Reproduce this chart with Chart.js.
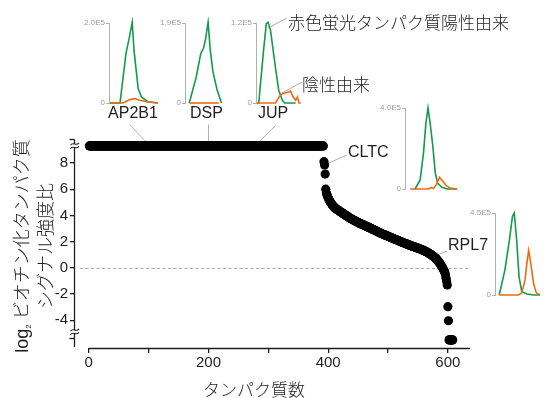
<!DOCTYPE html>
<html><head><meta charset="utf-8">
<script src="https://cdn.jsdelivr.net/npm/chart.js@4"></script>
<style>
html,body{margin:0;padding:0;background:#fff;}
#wrap{position:relative;width:544px;height:398px;overflow:hidden;font-family:'Liberation Sans',Arial,'Noto Sans CJK JP',sans-serif;color:#1e1e1e;}
canvas{position:absolute;}
.lbl{position:absolute;white-space:nowrap;line-height:1;}
.cjk{font-family:'Noto Sans CJK JP','Liberation Sans',sans-serif;font-weight:300;}
</style></head>
<body><div id="wrap">
<canvas id="main" width="544" height="398" style="left:0;top:0"></canvas>
<svg width="544" height="398" style="position:absolute;left:0;top:0;pointer-events:none">
  <line x1="287" y1="18" x2="268" y2="28" stroke="#999" stroke-width="0.8"/>
  <line x1="302" y1="82" x2="282" y2="93" stroke="#999" stroke-width="0.8"/>
</svg>
<div class="lbl" style="left:133px;top:104.5px;font-size:16px;transform:translateX(-50%)">AP2B1</div>
<div class="lbl" style="left:206.5px;top:104.5px;font-size:16px;transform:translateX(-50%)">DSP</div>
<div class="lbl" style="left:273px;top:104.5px;font-size:16px;transform:translateX(-50%)">JUP</div>
<div class="lbl" style="left:348px;top:143.5px;font-size:16px">CLTC</div>
<div class="lbl" style="left:448px;top:236.5px;font-size:16px">RPL7</div>
<div class="lbl cjk" style="left:288px;top:13px;font-size:17px">赤色蛍光タンパク質陽性由来</div>
<div class="lbl cjk" style="left:302px;top:75px;font-size:17px">陰性由来</div>
<div class="lbl cjk" style="left:203px;top:380px;font-size:17px">タンパク質数</div>
<div class="lbl" style="left:-99px;top:224px;width:260px;height:44px;line-height:22px;font-size:18px;text-align:center;transform:rotate(-90deg);transform-origin:130px 22px;">
  <div><span style="font-family:'Liberation Sans',Arial,sans-serif">log<span style="font-size:8px;vertical-align:-3px;line-height:0">2</span> </span><span class="cjk">ビオチン化タンパク質</span></div>
  <div class="cjk">シグナル強度比</div>
</div>
</div>
<script>
// ---------- main chart data (rank-ordered log2 ratios) ----------
const cappedHigh = [
9.3,9.3,9.3,9.3,9.3,9.3,9.3,9.3,9.3,9.3, 9.3,9.3,9.3,9.3,9.3,9.3,9.3,9.3,9.3,9.3,
9.3,9.3,9.3,9.3,9.3,9.3,9.3,9.3,9.3,9.3, 9.3,9.3,9.3,9.3,9.3,9.3,9.3,9.3,9.3,9.3,
9.3,9.3,9.3,9.3,9.3,9.3,9.3,9.3,9.3,9.3, 9.3,9.3,9.3,9.3,9.3,9.3,9.3,9.3,9.3,9.3,
9.3,9.3,9.3,9.3,9.3,9.3,9.3,9.3,9.3,9.3, 9.3,9.3,9.3,9.3,9.3,9.3,9.3,9.3,9.3,9.3,
9.3,9.3,9.3,9.3,9.3,9.3,9.3,9.3,9.3,9.3, 9.3,9.3,9.3,9.3,9.3,9.3,9.3,9.3,9.3,9.3,
9.3,9.3,9.3,9.3,9.3,9.3,9.3,9.3,9.3,9.3, 9.3,9.3,9.3,9.3,9.3,9.3,9.3,9.3,9.3,9.3,
9.3,9.3,9.3,9.3,9.3,9.3,9.3,9.3,9.3,9.3, 9.3,9.3,9.3,9.3,9.3,9.3,9.3,9.3,9.3,9.3,
9.3,9.3,9.3,9.3,9.3,9.3,9.3,9.3,9.3,9.3, 9.3,9.3,9.3,9.3,9.3,9.3,9.3,9.3,9.3,9.3,
9.3,9.3,9.3,9.3,9.3,9.3,9.3,9.3,9.3,9.3, 9.3,9.3,9.3,9.3,9.3,9.3,9.3,9.3,9.3,9.3,
9.3,9.3,9.3,9.3,9.3,9.3,9.3,9.3,9.3,9.3, 9.3,9.3,9.3,9.3,9.3,9.3,9.3,9.3,9.3,9.3,
9.3,9.3,9.3,9.3,9.3,9.3,9.3,9.3,9.3,9.3, 9.3,9.3,9.3,9.3,9.3,9.3,9.3,9.3,9.3,9.3,
9.3,9.3,9.3,9.3,9.3,9.3,9.3,9.3,9.3,9.3, 9.3,9.3,9.3,9.3,9.3,9.3,9.3,9.3,9.3,9.3,
9.3,9.3,9.3,9.3,9.3,9.3,9.3,9.3,9.3,9.3, 9.3,9.3,9.3,9.3,9.3,9.3,9.3,9.3,9.3,9.3,
9.3,9.3,9.3,9.3,9.3,9.3,9.3,9.3,9.3,9.3, 9.3,9.3,9.3,9.3,9.3,9.3,9.3,9.3,9.3,9.3,
9.3,9.3,9.3,9.3,9.3,9.3,9.3,9.3,9.3,9.3, 9.3,9.3,9.3,9.3,9.3,9.3,9.3,9.3,9.3,9.3,
9.3,9.3,9.3,9.3,9.3,9.3,9.3,9.3,9.3,9.3, 9.3,9.3,9.3,9.3,9.3,9.3,9.3,9.3,9.3,9.3,
9.3,9.3,9.3,9.3,9.3,9.3,9.3,9.3,9.3,9.3, 9.3,9.3,9.3,9.3,9.3,9.3,9.3,9.3,9.3,9.3,
9.3,9.3,9.3,9.3,9.3,9.3,9.3,9.3,9.3,9.3, 9.3,9.3,9.3,9.3,9.3,9.3,9.3,9.3,9.3,9.3,
9.3,9.3,9.3,9.3,9.3,9.3,9.3,9.3,9.3,9.3, 9.3,9.3,9.3,9.3,9.3,9.3,9.3,9.3,9.3,9.3,
9.3,9.3,9.3,9.3,9.3,9.3,9.3,9.3,9.3,9.3, 9.3,9.3
];
const dropValues = [8.1, 7.85, 7.15, 6.0, 5.7];
const curveValues = [
5.58,5.45,5.34,5.24,5.15,5.06,
4.99,4.92,4.86,4.80,4.74,4.68,4.63,4.59,4.55,
4.51,4.48,4.45,4.42,4.39,4.36,4.32,4.29,
4.26,4.23,4.20,4.17,4.14,4.11,4.08,4.05,4.02,3.99,3.96,3.93,3.90,3.87,3.84,3.80,3.77,
3.75,3.73,3.70,3.68,3.65,3.63,3.61,3.58,3.56,3.53,3.51,3.49,3.46,3.44,3.41,3.39,
3.37,3.35,3.33,3.31,3.29,3.27,3.25,3.23,3.21,3.19,3.17,3.14,3.12,3.10,3.08,3.06,3.04,
3.02,3.00,2.97,2.95,2.93,2.91,2.88,2.86,2.84,2.82,2.79,2.77,2.75,2.73,2.70,2.68,2.66,
2.64,2.62,2.60,2.58,2.56,2.54,2.52,2.50,2.49,2.47,2.45,2.43,2.41,2.39,2.37,2.35,
2.33,2.31,2.29,2.27,2.25,2.23,2.21,2.19,2.17,2.16,2.14,2.12,2.10,2.08,2.06,2.04,2.02,
2.00,1.98,1.96,1.95,1.93,1.91,1.89,1.87,1.85,1.84,1.82,1.80,1.78,1.76,1.75,1.73,1.71,
1.69,1.68,1.66,1.64,1.63,1.61,1.60,1.58,1.56,1.55,1.53,1.51,1.50,1.48,1.47,1.45,
1.43,1.41,1.39,1.37,1.35,1.33,1.31,1.29,1.27,1.25,1.22,1.20,1.17,1.15,1.12,1.09,1.06,
1.03,1.00,0.97,0.93,0.90,0.86,0.82,0.79,0.75,0.71,0.67,
0.62,0.56,0.50,0.44,0.38,0.31,0.24,0.16,
0.08,0.00,-0.08,-0.17,-0.26,-0.36,
-0.55,-0.80,-1.05,-1.31
];
const tailValues = [-2.97, -4.04, -5.5, -5.5, -5.5, -5.5, -5.5, -5.5, -5.5];
const ratios = cappedHigh.concat(dropValues, curveValues, tailValues);

const xTicks = [0, 100, 200, 300, 400, 500, 600];
const xTickLabels = ['0', '', '200', '', '400', '', '600'];
const yTicks = [-4, -2, 0, 2, 4, 6, 8];
const yTickLabels = ['-4', '-2', '0', '2', '4', '6', '8'];

const annotationNames = ['AP2B1', 'DSP', 'JUP', 'CLTC', 'RPL7'];
const annotationRanks = [102, 200, 278, 394, 576];
const annotationAnchors = [[130,125],[208.5,124.5],[275,126],[347,155],[447,251]];

// ---------- inset elution profiles (×1E5) ----------
const insetLabels = ['2.0E5', '1.9E5', '1.2E5', '4.0E5', '4.5E5'];
const insetMax = [2.0, 1.9, 1.2, 4.0, 4.5];
const insetFractionMax = [16.8, 12.5, 15.2, 17.5, 15.3];

const ap2b1GreenX = [0.3, 3.7, 5.7, 6.8, 7.8, 8.4, 9.8, 10.9, 13.1, 16.4];
const ap2b1GreenY = [0, 0, 1.24, 1.62, 2.02, 1.32, 0.36, 0.15, 0.03, 0];
const ap2b1OrangeX = [0.3, 4.7, 7.0, 8.7, 10.3, 13.1, 16.4];
const ap2b1OrangeY = [0, 0, 0.085, 0.11, 0.07, 0.025, 0];

const dspGreenX = [1.4, 3.7, 5.2, 6.1, 6.7, 7.6, 8.3, 9.2, 10.6, 12.0];
const dspGreenY = [0, 0.62, 1.18, 1.30, 1.49, 1.92, 1.26, 0.74, 0.30, 0];
const dspOrangeX = [1.4, 11.1];
const dspOrangeY = [0, 0];

const jupGreenX = [0.5, 0.9, 2.5, 3.4, 4.0, 4.8, 6.4, 7.5, 8.7, 9.4, 13.1];
const jupGreenY = [0, 0, 0.79, 1.19, 1.21, 1.09, 0.54, 0.19, 0.04, 0, 0];
const jupOrangeX = [0.3, 6.4, 8.1, 8.7, 10.9, 11.4, 12.3, 13.1, 13.7, 14.2, 14.8];
const jupOrangeY = [0, 0, 0.12, 0.14, 0.17, 0.18, 0.09, 0.04, 0.09, 0, 0];

const cltcGreenX = [3.3, 5.0, 6.1, 6.9, 7.6, 8.3, 9.2, 10.0, 10.8, 12.2, 13.9, 17.2];
const cltcGreenY = [0, 0.45, 1.77, 3.25, 4.0, 3.25, 2.1, 0.78, 0.28, 0.08, 0, 0];
const cltcOrangeX = [1.7, 7.8, 8.7, 9.4, 10.3, 11.4, 12.6, 13.7, 14.8, 17.2];
const cltcOrangeY = [0, 0, 0.08, 0.03, 0.2, 0.58, 0.36, 0.15, 0.05, 0];

const rpl7GreenX = [1.4, 3.3, 4.8, 5.8, 6.4, 7.2, 8.0, 8.9, 10.6, 12.8, 15.0];
const rpl7GreenY = [0, 1.38, 3.03, 4.31, 4.5, 3.03, 1.0, 0.18, 0.05, 0, 0];
const rpl7OrangeX = [1.4, 7.8, 8.9, 10.0, 10.6, 11.2, 11.9, 12.8, 13.7, 14.8];
const rpl7OrangeY = [0, 0, 0.12, 0.83, 1.75, 2.44, 1.75, 0.64, 0.13, 0];

const GREEN = '#159a4a';
const ORANGE = '#f06a12';
const FONT = "'Liberation Sans', Arial, sans-serif";
Chart.defaults.font.family = FONT;

// ---------- main chart ----------
const points = ratios.map((v, i) => ({ x: i + 1, y: v }));

const axisPlugin = {
  id: 'axisDecor',
  beforeDatasetsDraw(chart) {
    const ctx = chart.ctx, ca = chart.chartArea;
    const xs = chart.scales.x, ys = chart.scales.y;
    ctx.save();
    const y0 = Math.round(ys.getPixelForValue(0)) + 0.5;
    ctx.strokeStyle = '#a8a8a8'; ctx.lineWidth = 1; ctx.setLineDash([3, 2.5]);
    ctx.beginPath(); ctx.moveTo(ca.left + 5, y0); ctx.lineTo(ca.right, y0); ctx.stroke();
    ctx.setLineDash([]);
    ctx.strokeStyle = '#9a9a9a'; ctx.lineWidth = 0.8;
    annotationRanks.forEach((r, i) => {
      const px = xs.getPixelForValue(r), py = ys.getPixelForValue(ratios[r - 1]);
      ctx.beginPath(); ctx.moveTo(annotationAnchors[i][0], annotationAnchors[i][1]); ctx.lineTo(px, py); ctx.stroke();
    });
    ctx.strokeStyle = '#1e1e1e'; ctx.lineWidth = 1.3;
    ctx.beginPath(); ctx.moveTo(xs.getPixelForValue(0), ca.bottom + 0.5); ctx.lineTo(ca.right, ca.bottom + 0.5); ctx.stroke();
    const ax = ca.left - 0.5, top = ca.top + 0.5, bot = ca.bottom - 1;
    const b1 = top + 4.5, b2 = top + 8, b3 = bot - 17, b4 = bot - 13.5;
    const seg = (a, b) => { ctx.beginPath(); ctx.moveTo(ax, a); ctx.lineTo(ax, b); ctx.stroke(); };
    seg(top, b1); seg(b2, b3); seg(b4, bot);
    const tick = (y) => { ctx.beginPath(); ctx.moveTo(ax - 5, y); ctx.lineTo(ax, y); ctx.stroke(); };
    tick(top); tick(bot - 8.5);
    ctx.lineWidth = 1.1;
    const squig = (y) => { ctx.beginPath(); ctx.moveTo(ax - 4, y + 1.2); ctx.bezierCurveTo(ax - 1.5, y - 2.8, ax + 1.5, y + 2.8, ax + 4.5, y - 1.2); ctx.stroke(); };
    squig(b1); squig(b2); squig(b3); squig(b4);
    ctx.restore();
  }
};

new Chart(document.getElementById('main'), {
  type: 'scatter',
  data: { datasets: [{ data: points, pointRadius: 4.6, pointHoverRadius: 4.6, backgroundColor: '#000', borderWidth: 0, clip: false }] },
  options: {
    responsive: false, animation: false, events: [],
    layout: { padding: { top: 139, right: 74, left: 0, bottom: 0 } },
    plugins: { legend: { display: false }, tooltip: { enabled: false } },
    scales: {
      x: {
        type: 'linear', min: -23, max: 637,
        afterBuildTicks: s => { s.ticks = xTicks.map(v => ({ value: v })); },
        afterFit: s => { s.height = 50; },
        ticks: { autoSkip: false, maxRotation: 0, padding: 1, color: '#1e1e1e', font: { size: 15 },
          callback: (v) => { const k = xTicks.indexOf(v); return k >= 0 ? xTickLabels[k] : ''; } },
        grid: { drawOnChartArea: false, drawTicks: true, tickLength: 5, color: '#1e1e1e', lineWidth: 1.3 },
        border: { display: false }
      },
      y: {
        type: 'linear', min: -6.12, max: 9.83,
        afterBuildTicks: s => { s.ticks = yTicks.map(v => ({ value: v })); },
        afterFit: s => { s.width = 75; },
        ticks: { autoSkip: false, padding: 2, color: '#1e1e1e', font: { size: 15 },
          callback: (v) => { const k = yTicks.indexOf(v); return k >= 0 ? yTickLabels[k] : ''; } },
        grid: { drawOnChartArea: false, drawTicks: true, tickLength: 5, color: '#1e1e1e', lineWidth: 1.3 },
        border: { display: false }
      }
    }
  },
  plugins: [axisPlugin]
});

// ---------- insets ----------
const insetLayout = [
  { axisX: 109, top: 23, bottom: 102.7 },
  { axisX: 185, top: 23, bottom: 102.7 },
  { axisX: 255.7, top: 23, bottom: 102.7 },
  { axisX: 405, top: 108.3, bottom: 189 },
  { axisX: 495, top: 213.3, bottom: 295 }
];
const insetSeries = [
  [ap2b1GreenX, ap2b1GreenY, ap2b1OrangeX, ap2b1OrangeY],
  [dspGreenX, dspGreenY, dspOrangeX, dspOrangeY],
  [jupGreenX, jupGreenY, jupOrangeX, jupOrangeY],
  [cltcGreenX, cltcGreenY, cltcOrangeX, cltcOrangeY],
  [rpl7GreenX, rpl7GreenY, rpl7OrangeX, rpl7OrangeY]
];
const wrap = document.getElementById('wrap');
insetLayout.forEach((L, k) => {
  const AXW = 30, PT = 6, PB = 6, PR = 3, UNIT = 3;
  const w = AXW + insetFractionMax[k] * UNIT + PR, h = (L.bottom - L.top) + PT + PB;
  const c = document.createElement('canvas');
  c.width = Math.round(w); c.height = Math.round(h);
  c.style.left = (L.axisX - AXW) + 'px'; c.style.top = (L.top - PT) + 'px';
  wrap.appendChild(c);
  const [gx, gy, ox, oy] = insetSeries[k];
  const mx = insetMax[k];
  new Chart(c, {
    type: 'line',
    data: { datasets: [
      { data: ox.map((x, i) => ({ x, y: oy[i] })), borderColor: ORANGE, borderWidth: 1.6, pointRadius: 0, tension: 0, clip: false },
      { data: gx.map((x, i) => ({ x, y: gy[i] })), borderColor: GREEN, borderWidth: 1.6, pointRadius: 0, tension: 0, clip: false }
    ] },
    options: {
      responsive: false, animation: false, events: [],
      layout: { padding: { top: PT, bottom: PB, left: 0, right: PR } },
      plugins: { legend: { display: false }, tooltip: { enabled: false } },
      scales: {
        x: { type: 'linear', min: 0, max: insetFractionMax[k], display: false },
        y: {
          type: 'linear', min: 0, max: mx,
          afterBuildTicks: s => { s.ticks = [{ value: 0 }, { value: mx }]; },
          afterFit: s => { s.width = AXW; },
          ticks: { autoSkip: false, padding: 1, color: '#9a9a9a', font: { size: 8 },
            callback: (v) => v === 0 ? '0' : insetLabels[k] },
          grid: { drawOnChartArea: false, drawTicks: true, tickLength: 3, color: '#b0b0b0', lineWidth: 1 },
          border: { display: true, color: '#b0b0b0', width: 1 }
        }
      }
    }
  });
});
</script>
</body></html>
